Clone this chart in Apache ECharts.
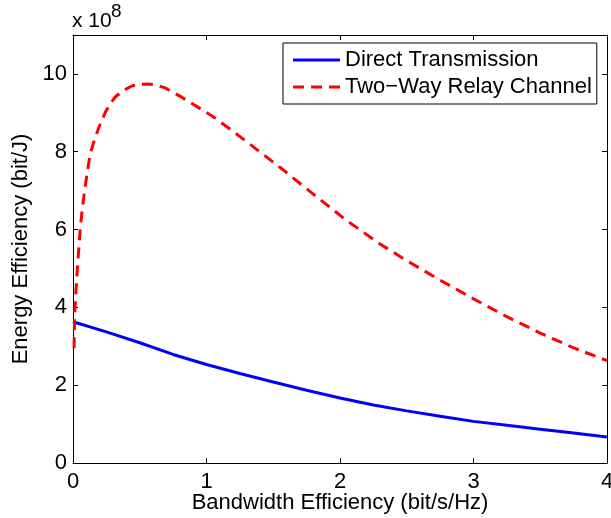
<!DOCTYPE html>
<html>
<head>
<meta charset="utf-8">
<script src="https://cdn.jsdelivr.net/npm/echarts@6/dist/echarts.min.js"></script>
<style>
html,body{margin:0;padding:0;background:#fff;}
#chart{width:611px;height:518px;}
</style>
</head>
<body>
<div id="chart"></div>
<script>
// Direct Transmission (x: bit/s/Hz, y: ×10^8 bit/J)
const dtX = [0, 0.25, 0.5, 0.75, 1.0, 1.25, 1.5, 1.75, 2.0, 2.25, 2.5, 2.75, 3.0, 3.25, 3.5, 3.75, 4.0];
const dtY = [3.63, 3.37, 3.09, 2.79, 2.53, 2.30, 2.08, 1.87, 1.67, 1.49, 1.34, 1.20, 1.07, 0.97, 0.87, 0.77, 0.67];
// Two-Way Relay Channel
const twX = [0.008, 0.012, 0.02, 0.03, 0.04, 0.055, 0.07, 0.09, 0.11, 0.13, 0.16, 0.2, 0.24, 0.28, 0.32, 0.38, 0.44, 0.5, 0.56, 0.62, 0.69, 0.8, 0.9, 1.05, 1.2, 1.3, 1.55, 1.8, 2.05, 2.3, 2.5, 2.75, 3.0, 3.25, 3.5, 3.75, 4.0];
const twY = [2.95, 3.8, 4.3, 4.85, 5.35, 6.05, 6.55, 7.08, 7.54, 7.96, 8.3, 8.68, 9.0, 9.24, 9.42, 9.58, 9.69, 9.73, 9.74, 9.72, 9.64, 9.43, 9.22, 8.9, 8.52, 8.26, 7.6, 6.91, 6.23, 5.63, 5.2, 4.7, 4.22, 3.76, 3.34, 2.96, 2.63];
const xTicks = [0, 1, 2, 3, 4];
const yTicks = [0, 2, 4, 6, 8, 10];
const seriesNames = ['Direct Transmission', 'Two\u2212Way Relay Channel'];
const xTitle = 'Bandwidth Efficiency (bit/s/Hz)';
const yTitle = 'Energy Efficiency (bit/J)';

const FONT = 'Liberation Sans, Arial, Helvetica, sans-serif';
const FS = 22;
const zip = (xs, ys) => xs.map((x, i) => [x, ys[i]]);

const axisLineStyle = { color: '#000', width: 1 };
const chart = echarts.init(document.getElementById('chart'), null, { renderer: 'canvas' });
chart.setOption({
  backgroundColor: '#fff',
  animation: false,
  grid: { left: 73, right: 4, top: 35, bottom: 55, containLabel: false, outerBoundsMode: 'none' },
  legend: {
    data: [
      { name: seriesNames[0], icon: 'path://M0,0H47V3H0Z' },
      { name: seriesNames[1], icon: 'path://M0,0H11V3H0Z M18,0H29V3H18Z M36,0H47V3H36Z' }
    ],
    orient: 'vertical',
    left: 283, top: 43,
    padding: [6, 5, 6, 10],
    itemGap: 5,
    itemWidth: 47, itemHeight: 3,
    backgroundColor: '#fff',
    borderColor: '#000', borderWidth: 1, borderRadius: 0,
    textStyle: { fontFamily: FONT, fontSize: FS, color: '#000' }
  },
  xAxis: [{
    type: 'value', position: 'bottom', min: 0, max: 4, interval: 1,
    name: xTitle, nameLocation: 'middle', nameGap: 29, nameMoveOverlap: false,
    nameTextStyle: { fontFamily: FONT, fontSize: FS, color: '#000' },
    axisLine: { show: true, onZero: false, lineStyle: axisLineStyle },
    axisTick: { show: true, inside: true, length: 5, lineStyle: axisLineStyle },
    axisLabel: { fontFamily: FONT, fontSize: FS, color: '#000', margin: 8,
      formatter: v => xTicks.includes(v) ? String(v) : '' },
    splitLine: { show: false }
  }, {
    type: 'value', position: 'top', min: 0, max: 4, interval: 1,
    axisLine: { show: true, onZero: false, lineStyle: axisLineStyle },
    axisTick: { show: true, inside: true, length: 5, lineStyle: axisLineStyle },
    axisLabel: { show: false }, splitLine: { show: false }
  }],
  yAxis: [{
    type: 'value', position: 'left', min: 0, max: 11, interval: 2,
    name: yTitle, nameLocation: 'middle', nameGap: 41, nameMoveOverlap: false,
    nameTextStyle: { fontFamily: FONT, fontSize: FS, color: '#000' },
    axisLine: { show: true, onZero: false, lineStyle: axisLineStyle },
    axisTick: { show: true, inside: true, length: 5, lineStyle: axisLineStyle },
    axisLabel: { fontFamily: FONT, fontSize: FS, color: '#000', margin: 6, showMaxLabel: false,
      formatter: v => yTicks.includes(v) ? String(v) : '' },
    splitLine: { show: false }
  }, {
    type: 'value', position: 'right', min: 0, max: 11, interval: 2,
    axisLine: { show: true, onZero: false, lineStyle: axisLineStyle },
    axisTick: { show: true, inside: true, length: 5, lineStyle: axisLineStyle },
    axisLabel: { show: false }, splitLine: { show: false }
  }],
  graphic: [{
    type: 'text', left: 72, top: 11,
    style: { text: 'x 10', fontFamily: FONT, fontSize: 21, fill: '#000' }
  }, {
    type: 'text', left: 111, top: 2,
    style: { text: '8', fontFamily: FONT, fontSize: 19, fill: '#000' }
  }],
  series: [{
    name: seriesNames[0], type: 'line', data: zip(dtX, dtY),
    showSymbol: false, symbol: 'none',
    lineStyle: { color: '#0000ff', width: 3 }, itemStyle: { color: '#0000ff' }
  }, {
    name: seriesNames[1], type: 'line', data: zip(twX, twY),
    showSymbol: false, symbol: 'none',
    lineStyle: { color: '#ff0000', width: 3, type: [11, 7] }, itemStyle: { color: '#ff0000' }
  }]
});
</script>
</body>
</html>
